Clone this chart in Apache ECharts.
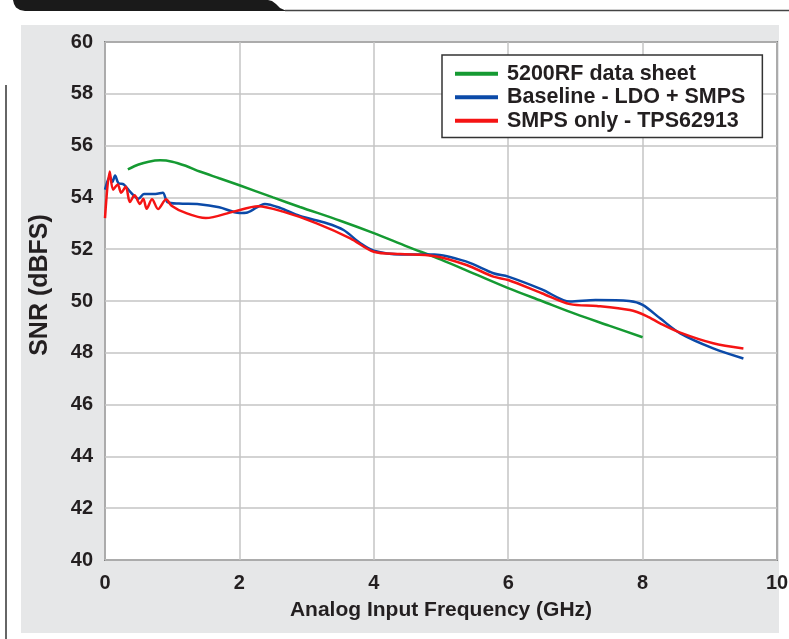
<!DOCTYPE html>
<html>
<head>
<meta charset="utf-8">
<script src="https://cdn.jsdelivr.net/npm/echarts@6/dist/echarts.min.js"></script>
<style>
html,body{margin:0;padding:0;background:#fff;}
#c{width:789px;height:639px;}
</style>
</head>
<body>
<div id="c"></div>
<script>
// ---- Data ----
const seriesNames = ['5200RF data sheet', 'Baseline - LDO + SMPS', 'SMPS only - TPS62913'];
const xTicks = [0, 2, 4, 6, 8, 10];
const yTicks = [40, 42, 44, 46, 48, 50, 52, 54, 56, 58, 60];

const freqGreen = [0.34, 0.5, 0.65, 0.82, 1.0, 1.2, 1.41, 1.7, 2.0, 2.5, 2.9, 3.5, 4.0, 4.5, 5.0, 5.5, 6.0, 6.5, 7.0, 7.5, 8.0];
const snrGreen  = [55.08, 55.27, 55.38, 55.43, 55.38, 55.22, 55.0, 54.74, 54.47, 54.0, 53.63, 53.1, 52.62, 52.1, 51.6, 51.05, 50.5, 50.0, 49.5, 49.05, 48.6];

const freqBlue = [0.00, 0.04, 0.07, 0.11, 0.15, 0.20, 0.28, 0.38, 0.50, 0.58, 0.75, 0.86, 0.93, 1.1, 1.4, 1.7, 2.0, 2.12, 2.38, 2.6, 2.9, 3.3, 3.55, 3.8, 4.0, 4.4, 4.9, 5.38, 5.78, 6.0, 6.5, 6.92, 7.3, 7.8, 8.0, 8.26, 8.56, 9.05, 9.5];
const snrBlue  = [54.3, 54.65, 54.8, 54.6, 54.85, 54.55, 54.5, 54.2, 53.95, 54.13, 54.13, 54.18, 53.82, 53.76, 53.74, 53.62, 53.4, 53.42, 53.75, 53.6, 53.28, 53.0, 52.74, 52.23, 51.94, 51.8, 51.8, 51.52, 51.07, 50.94, 50.45, 49.98, 50.04, 50.0, 49.85, 49.33, 48.75, 48.17, 47.78];

const freqRed = [0.00, 0.07, 0.12, 0.19, 0.24, 0.31, 0.37, 0.44, 0.52, 0.57, 0.62, 0.70, 0.79, 0.91, 0.99, 1.2, 1.5, 1.91, 2.28, 2.65, 3.15, 3.65, 4.0, 4.39, 4.89, 5.38, 5.78, 6.0, 6.5, 6.92, 7.32, 7.81, 8.06, 8.26, 8.56, 9.05, 9.5];
const snrRed  = [53.2, 55.0, 54.3, 54.5, 54.18, 54.41, 53.82, 54.08, 53.75, 53.95, 53.56, 53.93, 53.55, 53.93, 53.68, 53.4, 53.2, 53.45, 53.66, 53.45, 53.0, 52.42, 51.9, 51.81, 51.74, 51.39, 50.94, 50.81, 50.3, 49.88, 49.81, 49.65, 49.42, 49.14, 48.78, 48.37, 48.17];

const colors = ['#159a32', '#0b4aa8', '#f51414'];

function pairs(xs, ys) { return xs.map((x, i) => [x, ys[i]]); }

const chart = echarts.init(document.getElementById('c'), null, {renderer: 'canvas'});
const FONT = "'Liberation Sans', Arial, Helvetica, sans-serif";
const TXT = '#231f20';

const option = {
  backgroundColor: '#ffffff',
  animation: false,
  textStyle: {fontFamily: FONT},
  graphic: {
    elements: [
      {type: 'rect', z: -100, silent: true, shape: {x: 21, y: 25, width: 758, height: 608}, style: {fill: '#e6e7e8'}},
      {type: 'polygon', z: -90, silent: true, shape: {points: [[13,0],[268,0],[272,1],[276,4],[280,8],[285,10.3],[292,11],[25,11],[20,10],[16,7.5],[14,4]]}, style: {fill: '#1a1a1a'}},
      {type: 'line', z: -90, silent: true, shape: {x1: 285, y1: 10.5, x2: 789, y2: 10.5}, style: {stroke: '#444', lineWidth: 1.5}},
      {type: 'line', z: -90, silent: true, shape: {x1: 6, y1: 85, x2: 6, y2: 639}, style: {stroke: '#333', lineWidth: 1.5}}
    ]
  },
  grid: {
    left: 105, right: 12, top: 42, bottom: 79,
    show: true, backgroundColor: '#ffffff', borderColor: '#333', borderWidth: 1.5,
    containLabel: false, outerBoundsMode: 'none'
  },
  legend: {
    data: seriesNames,
    orient: 'vertical',
    left: 442, top: 55,
    padding: [7, 17, 5, 13],
    backgroundColor: '#ffffff',
    borderColor: '#333', borderWidth: 1.5, borderRadius: 0,
    itemGap: 0, itemWidth: 43, itemHeight: 4,
    icon: 'rect',
    textStyle: {fontFamily: FONT, fontSize: 21.5, fontWeight: 'bold', color: TXT, lineHeight: 23.5, padding: [0, 0, 0, 4]}
  },
  xAxis: {
    type: 'value', min: xTicks[0], max: xTicks[xTicks.length - 1], interval: 2,
    name: 'Analog Input Frequency (GHz)', nameLocation: 'middle', nameGap: 40,
    nameTextStyle: {fontFamily: FONT, fontSize: 21, fontWeight: 'bold', color: TXT},
    axisLine: {show: false}, axisTick: {show: false},
    axisLabel: {fontFamily: FONT, fontSize: 20, fontWeight: 'bold', color: TXT, margin: 13},
    splitLine: {show: true, lineStyle: {color: '#c4c4c4', width: 1.5}}
  },
  yAxis: {
    type: 'value', min: yTicks[0], max: yTicks[yTicks.length - 1], interval: 2,
    name: 'SNR (dBFS)', nameLocation: 'middle', nameGap: 52, nameRotate: 90,
    nameTextStyle: {fontFamily: FONT, fontSize: 25, fontWeight: 'bold', color: TXT, padding: [0, 0, 0, 32]},
    axisLine: {show: false}, axisTick: {show: false},
    axisLabel: {fontFamily: FONT, fontSize: 20, fontWeight: 'bold', color: TXT, margin: 12},
    splitLine: {show: true, lineStyle: {color: '#c4c4c4', width: 1.5}}
  },
  series: [
    {name: seriesNames[0], type: 'line', data: pairs(freqGreen, snrGreen), showSymbol: false, smooth: 0.3, lineStyle: {width: 2.5, color: colors[0]}, itemStyle: {color: colors[0]}},
    {name: seriesNames[1], type: 'line', data: pairs(freqBlue, snrBlue), showSymbol: false, smooth: 0.3, lineStyle: {width: 2.5, color: colors[1]}, itemStyle: {color: colors[1]}},
    {name: seriesNames[2], type: 'line', data: pairs(freqRed, snrRed), showSymbol: false, smooth: 0.3, lineStyle: {width: 2.5, color: colors[2]}, itemStyle: {color: colors[2]}}
  ]
};
chart.setOption(option);
</script>
</body>
</html>
